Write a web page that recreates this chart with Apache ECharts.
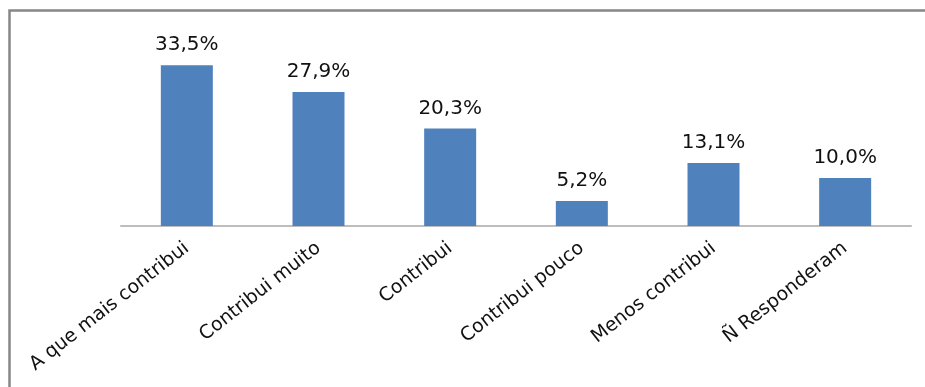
<!DOCTYPE html>
<html>
<head>
<meta charset="utf-8">
<script src="https://cdn.jsdelivr.net/npm/echarts@6/dist/echarts.min.js"></script>
<style>
  html, body { margin: 0; padding: 0; background: #fff; }
  #chart { width: 925px; height: 387px; }
</style>
</head>
<body>
<div id="chart"></div>
<script>
// Categories and percentage shares
const categories = [
  'A que mais contribui',
  'Contribui muito',
  'Contribui',
  'Contribui pouco',
  'Menos contribui',
  'Ñ Responderam'
];
const shares = [33.5, 27.9, 20.3, 5.2, 13.1, 10.0];

const fmtPct = v => v.toFixed(1).replace('.', ',') + '%';

const chart = echarts.init(document.getElementById('chart'), null, { renderer: 'canvas' });

chart.setOption({
  animation: false,
  backgroundColor: '#ffffff',
  textStyle: { fontFamily: 'DejaVu Sans' },
  graphic: [{
    type: 'rect',
    silent: true,
    z: 0,
    shape: { x: 9.5, y: 10.5, width: 1000, height: 1000 },
    style: { fill: 'none', stroke: '#878787', lineWidth: 2.5 }
  }],
  grid: { left: 121, right: 14, top: 34, bottom: 161 },
  xAxis: {
    type: 'category',
    data: categories,
    axisTick: { show: false },
    axisLine: { lineStyle: { color: '#BDBDBD', width: 2 } },
    axisLabel: {
      interval: 0,
      rotate: 38,
      margin: 20,
      color: '#111',
      fontSize: 19,
      fontFamily: 'DejaVu Sans'
    }
  },
  yAxis: {
    type: 'value',
    min: 0,
    max: 40,
    show: false,
    splitLine: { show: false }
  },
  series: [{
    type: 'bar',
    data: shares,
    barWidth: 52,
    itemStyle: { color: '#4F81BD' },
    label: {
      show: true,
      position: 'top',
      distance: 10,
      color: '#111',
      fontSize: 20,
      fontFamily: 'DejaVu Sans',
      formatter: p => fmtPct(p.value)
    }
  }]
});
</script>
</body>
</html>
